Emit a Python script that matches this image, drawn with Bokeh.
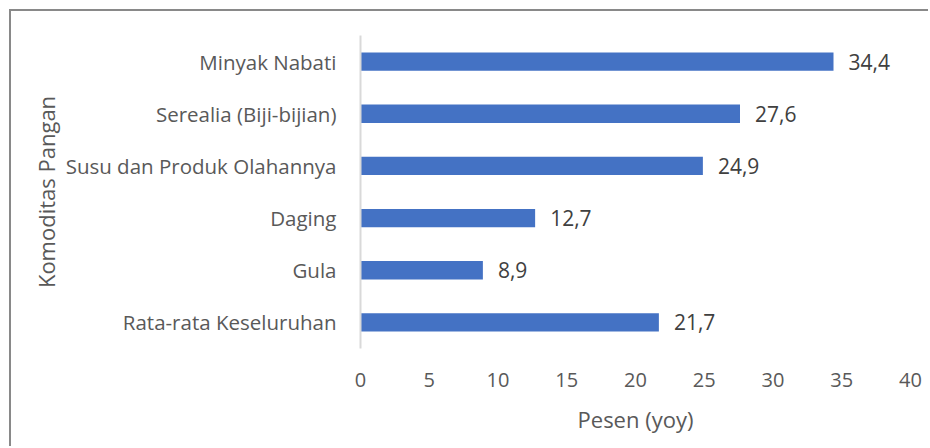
from bokeh.plotting import figure
from bokeh.models import ColumnDataSource, LabelSet, FactorRange, FixedTicker
from bokeh.core.properties import value
from bokeh.embed import file_html
from bokeh.resources import INLINE

categories = ["Minyak Nabati", "Serealia (Biji-bijian)", "Susu dan Produk Olahannya",
              "Daging", "Gula", "Rata-rata Keseluruhan"]
values = [34.4, 27.6, 24.9, 12.7, 8.9, 21.7]
x_ticks = [0, 5, 10, 15, 20, 25, 30, 35, 40]
x_title = "Pesen (yoy)"
y_title = "Komoditas Pangan"

FONT = "Open Sans"
TXT = "#595959"

labels = [f"{v:.1f}".replace(".", ",") for v in values]
src = ColumnDataSource(dict(cat=categories, val=values, lab=labels))

p = figure(width=919, height=437,
           y_range=FactorRange(factors=list(reversed(categories))),
           x_range=(0, 40),
           output_backend="svg", toolbar_location=None,
           min_border_left=349, min_border_right=20,
           min_border_top=24, min_border_bottom=100)

p.hbar(y="cat", left=0, right="val", height=0.35, source=src,
       fill_color="#4472C4", line_color=None)

p.add_layout(LabelSet(x="val", y="cat", text="lab", source=src, x_offset=15,
                      text_baseline="middle", text_align="left",
                      text_font=value(FONT), text_font_size="21px", text_color="#404040"))

p.xgrid.grid_line_color = None
p.ygrid.grid_line_color = None
p.outline_line_color = None

ya = p.yaxis[0]
ya.axis_line_color = "#D9D9D9"
ya.axis_line_width = 2
ya.major_tick_line_color = None
ya.minor_tick_line_color = None
ya.major_tick_out = 0
ya.major_tick_in = 0
ya.major_label_standoff = 24
ya.major_label_text_font = FONT
ya.major_label_text_font_size = "20.5px"
ya.major_label_text_color = TXT
ya.axis_label = y_title
ya.axis_label_text_font = FONT
ya.axis_label_text_font_size = "22px"
ya.axis_label_text_font_style = "normal"
ya.axis_label_text_color = TXT
ya.axis_label_standoff = 2

xa = p.xaxis[0]
xa.ticker = FixedTicker(ticks=x_ticks)
xa.axis_line_color = None
xa.major_tick_line_color = None
xa.minor_tick_line_color = None
xa.major_tick_out = 0
xa.major_tick_in = 0
xa.major_label_standoff = 24
xa.major_label_text_font = FONT
xa.major_label_text_font_size = "20px"
xa.major_label_text_color = TXT
xa.axis_label = x_title
xa.axis_label_text_font = FONT
xa.axis_label_text_font_size = "22px"
xa.axis_label_text_font_style = "normal"
xa.axis_label_text_color = TXT
xa.axis_label_standoff = 14

p.styles = {"margin-left": "9px", "margin-top": "9px",
            "border-left": "2px solid #898989", "border-top": "2px solid #898989"}

open("out.html", "w").write(file_html(p, INLINE))
